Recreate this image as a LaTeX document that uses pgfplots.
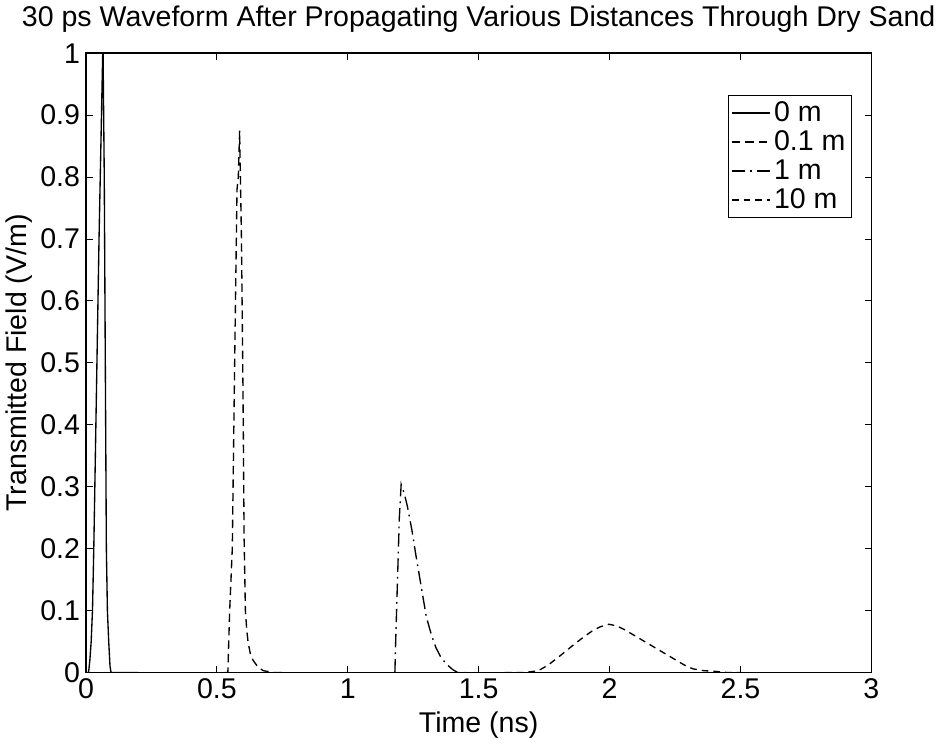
\documentclass[border=0pt]{standalone}
\usepackage{pgfplots}
\pgfplotsset{compat=1.18}
\usepackage{fontspec}
\setmainfont{Liberation Sans}
\begin{document}
\begin{tikzpicture}
\begin{axis}[
  scale only axis,
  width=468pt, height=369pt,
  xmin=0, xmax=3, ymin=0, ymax=1,
  xtick={0,0.5,1,1.5,2,2.5,3},
  ytick={0,0.1,0.2,0.3,0.4,0.5,0.6,0.7,0.8,0.9,1},
  yticklabels={0,0.1,0.2,0.3,0.4,0.5,0.6,0.7,0.8,0.9,1},
  xticklabels={0,0.5,1,1.5,2,2.5,3},
  tick align=inside,
  tick pos=both,
  major tick length=4pt,
  axis line style={line width=0.9pt},
  every tick/.style={black, line width=0.6pt},
  tick label style={font=\fontsize{17}{19}\selectfont},
  label style={font=\fontsize{17}{19}\selectfont},
  xlabel={Time (ns)},
  ylabel={Transmitted Field (V/m)},
  xlabel style={yshift=-1pt},
  ylabel style={yshift=-2pt},
  title={30 ps Waveform After Propagating Various Distances Through Dry Sand},
  title style={font=\fontsize{17}{19}\selectfont, yshift=3pt},
  clip=true,
  legend style={at={(0.975,0.932)}, anchor=north east, draw=black, line width=0.6pt,
    font=\fontsize{17}{16}\selectfont, inner sep=1.5pt, row sep=0pt,
    legend cell align=left},
  legend image code/.code={\draw[#1] (0cm,0cm) -- (0.8cm,0cm);},
  every axis plot/.append style={black, line width=0.8pt},
]
\addplot[solid] coordinates {
(0,0) (0.010,0) (0.015,0.02) (0.020,0.05) (0.025,0.10) (0.030,0.20)
(0.036,0.35) (0.042,0.50) (0.050,0.70) (0.058,0.87) (0.065,1.02)
(0.070,0.80) (0.074,0.50) (0.078,0.20) (0.082,0.10) (0.087,0.05)
(0.092,0.01) (0.096,0) (0.2,0)};
\addlegendentry{0 m}
\addplot[dash pattern=on 5pt off 3pt] coordinates {
(0.53,0) (0.542,0) (0.549,0.10) (0.559,0.20) (0.568,0.50) (0.577,0.78)
(0.582,0.80) (0.587,0.875) (0.590,0.80) (0.594,0.70) (0.600,0.45)
(0.604,0.22) (0.609,0.10) (0.614,0.07) (0.619,0.05) (0.628,0.03)
(0.638,0.02) (0.655,0.01) (0.677,0.003) (0.72,0) (0.75,0)};
\addlegendentry{0.1 m}
\addplot[dash pattern=on 8pt off 3pt on 1pt off 3pt] coordinates {
(1.18,0) (1.183,0.05) (1.190,0.15) (1.197,0.25) (1.204,0.304)
(1.215,0.29) (1.227,0.27) (1.245,0.23) (1.260,0.19) (1.280,0.14)
(1.300,0.09) (1.320,0.06) (1.337,0.04) (1.355,0.025) (1.376,0.014)
(1.40,0.005) (1.42,0) (1.45,0)};
\addlegendentry{1 m}
\addplot[dash pattern=on 4pt off 3pt] coordinates {
(1.60,0) (1.677,0) (1.728,0.003) (1.765,0.012) (1.805,0.025) (1.837,0.036)
(1.869,0.047) (1.900,0.057) (1.933,0.067) (1.965,0.074) (1.997,0.078)
(2.030,0.075) (2.062,0.068) (2.094,0.060) (2.126,0.052) (2.158,0.044)
(2.190,0.036) (2.222,0.028) (2.254,0.020) (2.286,0.012) (2.318,0.006)
(2.36,0.003) (2.40,0.002) (2.45,0) (2.5,0)};
\addlegendentry{10 m}
\end{axis}
\end{tikzpicture}
\end{document}
